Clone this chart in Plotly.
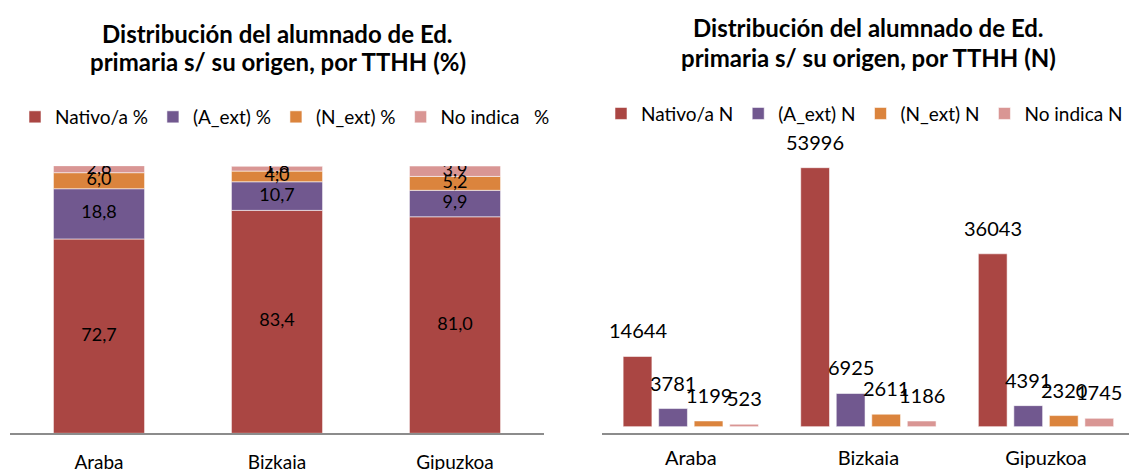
import plotly.graph_objects as go

# Datos: alumnado de Ed. primaria por territorio histórico
zonas = ['Araba', 'Bizkaia', 'Gipuzkoa']

series_pct = ['Nativo/a %', '(A_ext) %', '(N_ext) %', 'No indica\u00a0\u00a0\u00a0%']
series_n = ['Nativo/a N', '(A_ext) N', '(N_ext) N', 'No indica N']

nativo_pct = [72.7, 83.4, 81.0]
a_ext_pct = [18.8, 10.7, 9.9]
n_ext_pct = [6.0, 4.0, 5.2]
no_indica_pct = [2.6, 1.8, 3.9]

nativo_n = [14644, 53996, 36043]
a_ext_n = [3781, 6925, 4391]
n_ext_n = [1199, 2611, 2320]
no_indica_n = [523, 1186, 1745]

colores = ['#AA4643', '#71588F', '#DB843D', '#D99694']
FONT = 'Lato'

valores_pct = [nativo_pct, a_ext_pct, n_ext_pct, no_indica_pct]
valores_n = [nativo_n, a_ext_n, n_ext_n, no_indica_n]

fig = go.Figure()

# Gráfico izquierdo: barras apiladas (%)
base = [0.0] * len(zonas)
ancho_izq = 0.512
for nombre, vals, color in zip(series_pct, valores_pct, colores):
    fig.add_trace(go.Bar(
        x=zonas, y=vals, base=list(base), name=nombre,
        marker=dict(color=color, line=dict(color='rgba(255,255,255,0.55)', width=1)),
        width=ancho_izq, offset=-ancho_izq / 2,
        xaxis='x', yaxis='y', legend='legend', hoverinfo='name+y'))
    mitad = [b + v / 2 for b, v in zip(base, vals)]
    fig.add_trace(go.Scatter(
        x=zonas, y=mitad, mode='text',
        text=[f'{v:.1f}'.replace('.', ',') for v in vals],
        textfont=dict(family=FONT, size=18, color='black'),
        xaxis='x', yaxis='y', showlegend=False, hoverinfo='skip'))
    base = [b + v for b, v in zip(base, vals)]

# Gráfico derecho: barras agrupadas (N)
ancho_der = 0.162
paso = 0.2
for i, (nombre, vals, color) in enumerate(zip(series_n, valores_n, colores)):
    off = -0.4 + paso * i + (paso - ancho_der) / 2
    fig.add_trace(go.Bar(
        x=zonas, y=vals, name=nombre,
        marker=dict(color=color, line=dict(color='rgba(255,255,255,0.55)', width=1)),
        width=ancho_der, offset=off,
        xaxis='x2', yaxis='y2', legend='legend2', hoverinfo='name+y'))
    for j, v in enumerate(vals):
        fig.add_annotation(
            x=j + off + ancho_der / 2, y=v, xref='x2', yref='y2',
            text=str(v), showarrow=False, yanchor='middle', yshift=26,
            font=dict(family=FONT, size=20, color='black'))

# Títulos (una anotación por línea)
titulos = [
    (277.5, [(33, 'Distribución del alumnado de Ed.'), (61, 'primaria s/ su origen, por TTHH (%)')]),
    (868, [(28, 'Distribución del alumnado de Ed.'), (57, 'primaria s/ su origen, por TTHH (N)')]),
]
for xc, lineas in titulos:
    for yc, txt in lineas:
        fig.add_annotation(
            x=xc / 1129, y=1 - yc / 470, xref='paper', yref='paper',
            text=f'<b>{txt}</b>', showarrow=False, xanchor='center', yanchor='middle',
            font=dict(family=FONT, size=24, color='black'))

eje_x = dict(type='category', showline=True, linecolor='#8C8C8C', linewidth=1.5,
             showgrid=False, zeroline=False, ticks='', fixedrange=True, automargin=False)
eje_y = dict(visible=False, showgrid=False, zeroline=False, fixedrange=True, automargin=False)

fig.update_layout(
    width=1129, height=470, autosize=False,
    margin=dict(l=0, r=0, t=0, b=0, pad=0, autoexpand=False),
    paper_bgcolor='white', plot_bgcolor='white',
    barmode='overlay',
    font=dict(family=FONT, color='black'),
    xaxis=dict(eje_x, domain=[10 / 1129, 544 / 1129], range=[-0.5, 2.5],
               tickfont=dict(family=FONT, size=19), ticklabelstandoff=11),
    yaxis=dict(eje_y, domain=[1 - 433.3 / 470, 1 - 166 / 470], range=[0, 100]),
    xaxis2=dict(eje_x, domain=[602 / 1129, 1], range=[-0.5, -0.5 + 527 / 177.6],
                tickfont=dict(family=FONT, size=20), ticklabelstandoff=6),
    yaxis2=dict(eje_y, domain=[1 - 426.7 / 470, 1 - 138.9 / 470], range=[0, 60000]),
    legend=dict(orientation='h', x=15 / 1129, y=1 - 117 / 470, xanchor='left', yanchor='middle',
                font=dict(family=FONT, size=19), bgcolor='rgba(0,0,0,0)'),
    legend2=dict(orientation='h', x=601 / 1129, y=1 - 113.6 / 470, xanchor='left', yanchor='middle',
                 font=dict(family=FONT, size=19), bgcolor='rgba(0,0,0,0)'),
    showlegend=True,
)

fig.write_html('out.html', config={'displayModeBar': False, 'responsive': False},
               post_script="document.body.style.margin='0';document.body.style.overflow='hidden';")
